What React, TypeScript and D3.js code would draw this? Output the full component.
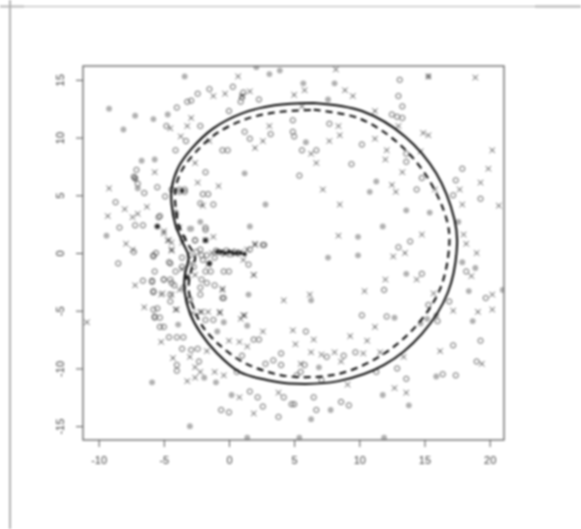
import React, { useEffect, useRef } from "react";
import * as d3 from "d3";

const xTicks = [-10, -5, 0, 5, 10, 15, 20];
const yTicks = [-15, -10, -5, 0, 5, 10, 15];

// values
const circlePoints: [number, number][] = [
  [-1.5,14.2],[-2.4,13.8],[-2.9,13.2],[-3.2,13.1],[-4,12.6],[0.3,14.4],[2.3,13.3],[0,12.3],[-4.8,11],[-2.2,11],
  [-3.3,9.7],[-4.1,8.9],[-0.5,8.9],[-0.1,8.9],[1.2,10.5],[1.6,9.9],[3.2,10.3],[-1.8,7],[-5.5,5.7],[-6.5,5.2],
  [-7.2,6.5],[-7,6],[-7.3,6.6],[-7.1,7.2],[-8.7,4.4],[-8.4,2.2],[-7.2,2.4],[-6.6,2.4],[-5.5,2.3],[-5.3,3.2],
  [-4.9,4.9],[-4.4,5.5],[-3.8,5.5],[-3.4,5.3],[-2,5.1],[-1.6,5.1],[-1.2,4.2],[-2.2,4.3],[-1.8,2],[-2.6,1.1],
  [2.6,0.7],[-5.8,-0.3],[-7.3,0.1],[-8.5,-0.9],[-4.6,-0.8],[1.1,13.9],[1,13.5],[0.9,13.1],
  [-2.1,-0.2],[-1.7,-0.2],[-2,-0.6],[-1.5,-0.9],[-1.1,-0.4],[-1.8,-1.6],[-1.4,-1.6],[-0.4,-1.6],[0,-1.6],[1.5,-1],
  [1.6,0.3],[2.7,0.7],[-1.8,1.1],[-4.5,-0.9],[-4.1,-1.6],[-5.7,-1.6],[-5.9,-2.5],[-5,-2.3],[-4.4,-2.6],[-4.2,-2.8],
  [-5.8,-3.3],[-4.5,-3.6],[-4.5,-4.2],[-3.2,-2.1],[-2.1,-2.3],[-1.7,-2.6],[-1.1,-2.8],[-0.5,-3.9],[-2.2,-3],[-2.2,-3.6],
  [-3,-4],[-0.8,0.1],[-0.5,0],[-0.2,0.2],[0.1,-0.1],[0.4,0.1],[0.7,0],[-1,0.2],[-2.5,0.1],[-2.7,-1.2],
  [-3.9,2.2],[-4.1,3.3],[-5.4,3.1],[-5.8,-0.2],[-3.6,-0.4],[-3.6,-1.2],[-3,-0.2],[-1.8,2.2],[-2.6,1.1],[-2.2,0.3],
  [-4.5,-2.3],[-3.5,-3],[-3.1,-4.1],[-5.5,-4.8],[-5.7,-5.6],[-3.8,5.3],[-3.4,5.5],[-4.1,3.5],[-5.6,0],[-3.5,1.3],
  [-6.6,-2.4],[-5.9,-2.4],[-5,-2.3],[-5.8,-3.4],[-0.4,-3.9],[-5.8,-4.9],[-5.7,-5.5],[-5.3,-5.6],[-5.3,-6.4],[-5,-6.4],
  [-4.6,-7.3],[-4,-7.3],[-3.5,-7.3],[-3.6,-8.3],[-2.9,-8.4],[-2.4,-8.3],[-2.3,-9.4],[-4,-9.7],[-4,-10.2],[-1.8,-5.8],
  [-1.2,-5.8],[1.9,-7.5],[2.3,-7.5],[1,-8.9],[0.6,-10.3],[2.8,-9.6],[3.4,-9.3],[4,-8.7],[4,-9.7],[1.6,-12],
  [2.2,-12.5],[2.6,-13.3],[-0.6,-13.6],[0,-13.8],[3.8,-14.2],[4.2,-12.5],
  [13.1,15],[13,13.6],[13.3,12.7],[12.5,12],[13.3,11.7],[12.9,11.8],[7.7,11.2],[4.9,11.5],[4.9,10.5],[5,10.1],
  [5.6,8.9],[6.7,8.9],[10.2,9.4],[9.4,7.7],[5.4,6.7],[14.4,5.5],[13.6,8.6],[13.6,7.9],[14.8,6.5],[17.2,5],
  [17.4,6.3],[17.9,7.3],[19.3,4.7],[13.9,1],[13,0.5],
  [14.8,-1.8],[11.9,-3.2],[10.2,-5.4],[12.1,-5.5],[15.3,-4.5],[16.9,-4.2],[19.7,-3.9],[16,-5.9],[5.9,-6.8],[7.5,-9],
  [8.8,-8.9],[9.7,-8.6],[5.8,-9.7],[5.5,-10.3],[5.2,-10.6],[7.1,-11],[12.9,-10],[13.6,-10.9],[11.3,-10.3],[17.2,-8],
  [19.3,-7.6],[19,-9.4],[17.4,-10.6],[16.4,-10.5],[6.5,-12.5],[5,-13.1],[4.8,-13.1],[6.7,-13.6],[8.6,-12.9],[9.2,-13.2],
  [18.2,-1.6],
];

const crossPoints: [number, number][] = [
  [0.7,15.3],[-1.2,13.6],[-0.3,13.8],[1.6,14],[1,13.6],[-2.9,11.7],[-3.2,11],[-4.5,10.8],[-3.7,10.1],[3.1,11],
  [2,9.1],[2.6,9.7],[-1.5,9.7],[-2.6,7.8],[-5.7,7],[-9.2,5.6],[-8,3.8],[-7,3.4],[-7.4,3.1],[-6.3,4],
  [-9.3,3.2],[-2.4,6.1],[-0.8,5.8],[-2,4.1],[-7.9,0.8],[-7.4,0.3],[-5,1.9],[-4.7,1.1],[-4.4,0.3],[2,0.7],
  [-1.8,1.1],[-1.2,1.4],[1.9,-1.9],[1.1,-0.6],[1.4,0.3],[2,0.8],[-0.6,0.1],[-0.3,-0.1],[0.2,0.1],[0.5,-0.1],
  [0.9,0.1],[-1.3,0],[-1.6,-1],[-0.5,-3.2],[-5.1,-3.5],[-3.6,-1.4],[-3.8,-3.2],[-2.6,-1.9],
  [-5,1.7],[-4.4,0.9],[-4.4,0.2],[-3.6,0.9],[-2.9,-0.9],[-2.2,-5.1],[-1.6,-5.1],[-0.7,-5.1],[1.1,-5.4],[-4,-4.9],
  [-2.8,-5.2],[-4.6,1.1],[-3.8,2.2],
  [-10.9,-6],[-6.5,-4.7],[-5.2,-7.7],[-4.3,-9.1],[-3,-9],[-2.6,-9.9],[-2.2,-10.3],[-3.2,-11.1],[-2.6,-10.8],[-1.7,-8.5],
  [-1.1,-10.3],[-0.4,-10.6],[-2.1,-5.1],[-0.7,-5.2],[0.8,-7.7],[0,-7.6],[1.4,-8.1],[1.2,-5.4],[0.9,-5.7],[2.6,-6.8],
  [4.2,-4.1],[1.9,-1.9],[-7.2,-2.8],[-5.2,-3.6],[-4.4,-3.6],[-4.1,-4.9],[-0.5,-3.1],[3.8,-12.1],[0.8,-12.5],[1.9,-13.9],
  [18.9,15.2],[15.3,15.3],[8.2,15.9],[5.8,14.1],[5,13.7],[8.9,14.1],[9.5,13.6],[5.6,12.7],[11.2,12.3],[13,11],
  [8.5,10.2],[7.7,9.7],[11.2,9.9],[6.3,8.6],[6.7,7.8],[12.1,8.9],[12,8.1],[13.3,7],[7.2,5.5],[8.5,4.2],
  [8.4,1.5],[12.8,5.3],[12.5,5.9],[15.8,5.5],[19.3,6.1],[19.9,7.3],[20.2,8.9],[20.7,4.1],[14.8,1.6],[18,1.6],
  [18.2,0.8],[19,0],[13.5,0],[12.6,-0.3],[15.3,10.2],[14.9,10.4],[14.7,8.8],[17.7,5.5],[17.9,4.2],[8.4,11],
  [14.4,-2.3],[18.6,-2],[10.4,-3.3],[12,-2.3],[6.2,-3.6],[15.7,-3.5],[17.2,-5],[19.1,-5.1],[20.2,-4.9],[20.2,-3.6],
  [16.2,-8.5],[19.4,-9.6],[4.9,-6.7],[6.5,-7.5],[6.3,-8.6],[8.1,-8.6],[7.1,-8.8],[9.3,-7.2],[10.3,-8.7],[11.6,-8.6],
  [13.4,-9],[12.7,-11.7],[13.6,-12.1],[11.2,-6.4],[10.6,-7.6],[5.1,-7.9],[5.5,-9.6],[8.6,-9.4],[9.1,-11.4],
];

const blobPoints: [number, number][] = [
  [-3.4,15.3],[-9.2,12.5],[-7.2,11.9],[-5.8,11.6],[-8.1,10.7],[-4.7,12],[-6.7,8],[-5.7,8.1],[-9.4,1.5],[2.8,4.2],
  [1.6,2.3],[-2.2,2.7],[-3,2.1],[1.2,6.9],[3.9,15.8],[3.1,15.5],[2.1,16.1],[-2.9,2.1],
  [-5.9,-11.2],[-3,-15],[1.4,-16],[-3.9,-6.2],[1.5,-3.6],[0.2,-12.3],[-1.9,-10.8],[-1,-11.2],[-0.4,-6],[-0.9,-6.8],[1.4,-6.3],
  [5.7,14.7],[8.1,14.7],[11.3,6.2],[10.8,5.3],[13.6,3.7],[15.4,3.5],[11.8,2.3],[9.9,1.4],[7.6,-0.4],[9.9,-0.2],
  [17.6,2.7],[5.9,9.6],[7.6,13.3],[17.9,-0.8],
  [13.6,-1.8],[18.4,-3.3],[18.7,-5.9],[12.7,-5.6],[6.9,-9.9],[11.8,-12.3],[13.8,-13.2],[15.9,-10.7],[7.8,-13.6],[6.3,-14.4],
  [5.4,-16],[11.9,-16],[18.9,-1.3],[21,-3.2],[6.3,-4.1],[15.9,-5.4],[15.2,-5.7],[14.7,-6.1],[15.3,15.3],[-7.2,6.4],[-7,5.6],
];

// darker spots where marks pile up
const darkPoints: [number, number][] = [
  [-3.2,-2.1],[-0.9,0.1],[-0.6,0.1],[-0.3,0],[0,0.1],[0.3,0],[0.6,0],[0.9,0],[1.2,-0.1],[-1.8,1.1],[-1.5,-0.9],[-5.5,2.3],[-3.6,5.4],
];

const solidBoundary: [number, number][] = [
  [6.5,13],[10.2,12.3],[13.5,10.1],[15.9,6.9],[17.3,2.9],[17.5,0.8],[16.8,-3.4],[14.8,-7],[11.9,-9.7],[8.4,-11.1],
  [4.6,-11.3],[2.9,-11],[0.8,-10.3],[-0.9,-8.7],[-2.2,-6.9],[-3,-5.2],[-3.4,-3.4],[-3.4,-2],[-3.1,-0.3],[-3.5,0.8],
  [-4.1,2.4],[-4.4,4.2],[-4.4,5.6],[-3.9,7.4],[-2.9,9],[-1.2,10.8],[1,12.1],[3.5,12.8],[6.5,13],
];

const dashedBoundary: [number, number][] = [
  [6.5,12.4],[9.9,11.7],[12.9,9.6],[15.2,6.6],[16.7,2.9],[16.9,0.7],[16.2,-3.1],[14.3,-6.4],[11.5,-9],[8.3,-10.5],
  [4.7,-10.7],[2.7,-10.2],[1,-9.4],[-0.7,-8],[-2,-6.4],[-2.7,-4.8],[-3.1,-3.1],[-2.9,-1.5],[-2.6,-0.4],[-3.1,0.7],
  [-3.8,2.2],[-4.1,4],[-4.1,5.6],[-3.6,7.2],[-2.5,8.8],[-0.9,10.4],[1.3,11.6],[3.7,12.2],[6.5,12.4],
];

const App = () => {
  const ref = useRef<SVGSVGElement>(null);

  useEffect(() => {
    const svg = d3.select(ref.current);
    svg.selectAll("*").remove();

    const x = d3.scaleLinear().domain([-11.2, 21.1]).range([83, 504]);
    const y = d3.scaleLinear().domain([-16.2, 16.2]).range([440, 66]);

    const defs = svg.append("defs");
    defs.append("clipPath").attr("id", "plot").append("rect")
      .attr("x", 83).attr("y", 66).attr("width", 421).attr("height", 374);

    // page rules behind the chart
    const rules = svg.append("g").attr("stroke", "#b0b0b0");
    rules.append("line").attr("x1", 0).attr("x2", 581).attr("y1", 6.5).attr("y2", 6.5).attr("stroke-width", 1);
    rules.append("line").attr("x1", 0).attr("x2", 24).attr("y1", 6.5).attr("y2", 6.5).attr("stroke-width", 1.8);
    rules.append("line").attr("x1", 535).attr("x2", 581).attr("y1", 6.5).attr("y2", 6.5).attr("stroke-width", 1.8);
    rules.append("line").attr("x1", 10).attr("x2", 10).attr("y1", 0).attr("y2", 529).attr("stroke-width", 2);

    const marks = svg.append("g").attr("clip-path", "url(#plot)");

    marks.append("g").selectAll("circle").data(blobPoints).enter().append("circle")
      .attr("cx", (d) => x(d[0])).attr("cy", (d) => y(d[1]))
      .attr("r", 2.9).attr("fill", "#b0b0b0");

    marks.append("g").selectAll("circle").data(circlePoints).enter().append("circle")
      .attr("cx", (d) => x(d[0])).attr("cy", (d) => y(d[1]))
      .attr("r", 2.6).attr("fill", "none").attr("stroke", "#555").attr("stroke-width", 0.9);

    marks.append("g").selectAll("path").data(crossPoints).enter().append("path")
      .attr("d", (d) => {
        const px = x(d[0]);
        const py = y(d[1]);
        return `M${px - 2.7},${py - 2.7}L${px + 2.7},${py + 2.7}M${px - 2.7},${py + 2.7}L${px + 2.7},${py - 2.7}`;
      })
      .attr("fill", "none").attr("stroke", "#444").attr("stroke-width", 0.9);

    marks.append("g").selectAll("circle").data(darkPoints).enter().append("circle")
      .attr("cx", (d) => x(d[0])).attr("cy", (d) => y(d[1]))
      .attr("r", 2.1).attr("fill", "#222");

    const line = d3.line<[number, number]>()
      .x((d) => x(d[0])).y((d) => y(d[1]))
      .curve(d3.curveCatmullRom);

    marks.append("path").attr("d", line(solidBoundary))
      .attr("fill", "none").attr("stroke", "#000").attr("stroke-width", 2);
    marks.append("path").attr("d", line(dashedBoundary))
      .attr("fill", "none").attr("stroke", "#000").attr("stroke-width", 2).attr("stroke-dasharray", "7 5");

    // frame and axes
    const chart = svg.append("g");
    chart.append("rect").attr("x", 83).attr("y", 66).attr("width", 421).attr("height", 374)
      .attr("fill", "none").attr("stroke", "#555").attr("stroke-width", 1.2);

    const xAxis = chart.append("g").attr("transform", "translate(0,440)")
      .call(d3.axisBottom(x).tickValues(xTicks).tickSize(7).tickPadding(9).tickFormat((d) => String(d)));
    const yAxis = chart.append("g").attr("transform", "translate(83,0)")
      .call(d3.axisLeft(y).tickValues(yTicks).tickSize(7).tickPadding(9).tickFormat((d) => String(d)));

    [xAxis, yAxis].forEach((axis) => {
      axis.select(".domain").remove();
      axis.selectAll("line").attr("stroke", "#555");
      axis.selectAll("text").attr("fill", "#444")
        .style("font-family", "'Liberation Sans', Arial, sans-serif").style("font-size", "11px");
    });
    yAxis.selectAll("text")
      .attr("text-anchor", "middle").attr("dy", 0).attr("x", 0)
      .attr("transform", "translate(-19,0) rotate(-90)");
  }, []);

  return (
    <svg
      ref={ref}
      width={581}
      height={529}
      style={{ position: "absolute", left: 0, top: 0, background: "#fff", filter: "blur(0.85px)" }}
    />
  );
};

export default App;
